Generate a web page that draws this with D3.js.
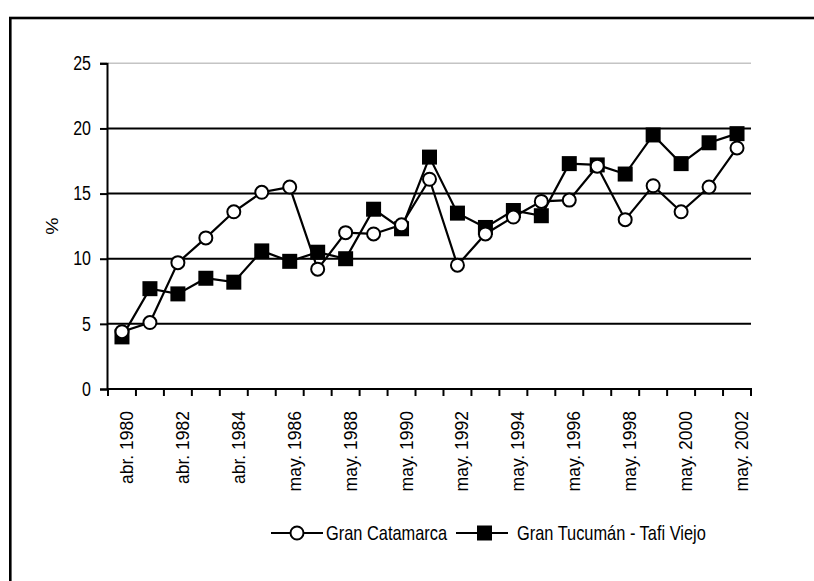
<!DOCTYPE html>
<html>
<head>
<meta charset="utf-8" />
<title></title>
<style>
    body { margin: 0; background: #fff; }
    svg { display: block; }
    text { font-family: "Liberation Sans", Arial, sans-serif; }
</style>
</head>
<body>
<div id="chart"></div>
<script src="https://cdn.jsdelivr.net/npm/d3@7"></script>
<script>
    var categories = ["abr. 1980", "abr. 1981", "abr. 1982", "abr. 1983", "abr. 1984", "may. 1985",
        "may. 1986", "may. 1987", "may. 1988", "may. 1989", "may. 1990", "may. 1991", "may. 1992",
        "may. 1993", "may. 1994", "may. 1995", "may. 1996", "may. 1997", "may. 1998", "may. 1999",
        "may. 2000", "may. 2001", "may. 2002"];
    var catamarca = [4.4, 5.1, 9.7, 11.6, 13.6, 15.1, 15.5, 9.2, 12.0, 11.9, 12.6, 16.1, 9.5,
        11.9, 13.2, 14.4, 14.5, 17.1, 13.0, 15.6, 13.6, 15.5, 18.5];
    var tucuman = [4.0, 7.7, 7.3, 8.5, 8.2, 10.6, 9.8, 10.5, 10.0, 13.8, 12.3, 17.8, 13.5,
        12.4, 13.7, 13.3, 17.3, 17.2, 16.5, 19.5, 17.3, 18.9, 19.6];
    var seriesNames = ["Gran Catamarca", "Gran Tucumán - Tafi Viejo"];
    var yTicks = [0, 5, 10, 15, 20, 25];

    var width = 814, height = 581;
    var narrow = 0.82; // Arial Narrow look-alike: squeeze Liberation Sans horizontally

    var svg = d3.select("#chart").append("svg")
        .attr("width", width)
        .attr("height", height);

    // outer frame (cropped on right and bottom)
    svg.append("rect")
        .attr("x", 10.3).attr("y", 18)
        .attr("width", 900).attr("height", 700)
        .attr("fill", "none")
        .attr("stroke", "#000")
        .attr("stroke-width", 2.6);

    var x = d3.scaleBand().domain(categories).range([108, 751]).padding(0);
    var y = d3.scaleLinear().domain([0, 25]).range([389, 63.3]);
    var cx = d => x(d) + x.bandwidth() / 2;

    // gridlines
    svg.append("g")
        .selectAll("line")
        .data(yTicks.filter(v => v > 0))
        .join("line")
        .attr("x1", x.range()[0]).attr("x2", x.range()[1])
        .attr("y1", d => y(d)).attr("y2", d => y(d))
        .attr("stroke", d => d === 25 ? "#c4c4c4" : "#000")
        .attr("stroke-width", d => d === 25 ? 1.5 : 2);

    // y axis
    var yAxis = svg.append("g")
        .attr("transform", "translate(107,0)")
        .call(d3.axisLeft(y).tickValues(yTicks).tickSize(7).tickPadding(9).tickFormat(d3.format("d")));
    yAxis.select(".domain").attr("stroke-width", 2);
    yAxis.selectAll(".tick line").attr("stroke-width", 2);
    yAxis.selectAll(".tick text")
        .attr("font-family", null)
        .attr("font-size", 19.5)
        .attr("fill", "#000")
        .attr("x", 0)
        .attr("transform", `translate(-16,0) scale(${narrow},1)`);

    // x axis line and ticks at band edges
    var xg = svg.append("g").attr("transform", "translate(0,389)");
    xg.append("line")
        .attr("x1", 107).attr("x2", x.range()[1] + 1)
        .attr("stroke", "#000").attr("stroke-width", 2);
    xg.selectAll("line.t")
        .data(categories.map(c => x(c)).concat([x.range()[1]]))
        .join("line")
        .attr("class", "t")
        .attr("x1", d => d).attr("x2", d => d)
        .attr("y1", 0).attr("y2", 7)
        .attr("stroke", "#000").attr("stroke-width", 2);
    xg.selectAll("text")
        .data(categories.filter((c, i) => i % 2 === 0))
        .join("text")
        .attr("font-size", 17.5)
        .attr("text-anchor", "end")
        .attr("transform", d => `translate(${cx(d) + 11},${22}) rotate(-90)`)
        .text(d => d);

    // y axis title
    svg.append("text")
        .attr("font-size", 19.5)
        .attr("text-anchor", "middle")
        .attr("transform", `translate(58,226) rotate(-90) scale(1,${narrow})`)
        .text("%");

    var line = d3.line()
        .x((d, i) => cx(categories[i]))
        .y(d => y(d));

    // Tucumán series
    svg.append("path")
        .datum(tucuman)
        .attr("d", line)
        .attr("fill", "none")
        .attr("stroke", "#000")
        .attr("stroke-width", 2.2);
    svg.append("g")
        .selectAll("rect")
        .data(tucuman)
        .join("rect")
        .attr("x", (d, i) => cx(categories[i]) - 7.5)
        .attr("y", d => y(d) - 7.5)
        .attr("width", 15).attr("height", 15)
        .attr("fill", "#000");

    // Catamarca series
    svg.append("path")
        .datum(catamarca)
        .attr("d", line)
        .attr("fill", "none")
        .attr("stroke", "#000")
        .attr("stroke-width", 2.2);
    svg.append("g")
        .selectAll("circle")
        .data(catamarca)
        .join("circle")
        .attr("cx", (d, i) => cx(categories[i]))
        .attr("cy", d => y(d))
        .attr("r", 6.5)
        .attr("fill", "#fff")
        .attr("stroke", "#000")
        .attr("stroke-width", 2);

    // legend
    var legendX = [271, 456];
    var legend = svg.append("g")
        .selectAll("g")
        .data(seriesNames)
        .join("g")
        .attr("transform", (d, i) => `translate(${legendX[i]},533)`);
    legend.append("line")
        .attr("x1", 0).attr("x2", 52)
        .attr("stroke", "#000").attr("stroke-width", 2);
    legend.filter((d, i) => i === 0).append("circle")
        .attr("cx", 26).attr("r", 6.5)
        .attr("fill", "#fff").attr("stroke", "#000").attr("stroke-width", 2);
    legend.filter((d, i) => i === 1).append("rect")
        .attr("x", 21).attr("y", -7.5).attr("width", 15).attr("height", 15)
        .attr("fill", "#000");
    legend.append("text")
        .attr("font-size", 20)
        .attr("dy", "0.35em")
        .attr("transform", (d, i) => `translate(${i === 0 ? 55 : 61},0) scale(${narrow},1)`)
        .text(d => d);
</script>
</body>
</html>
